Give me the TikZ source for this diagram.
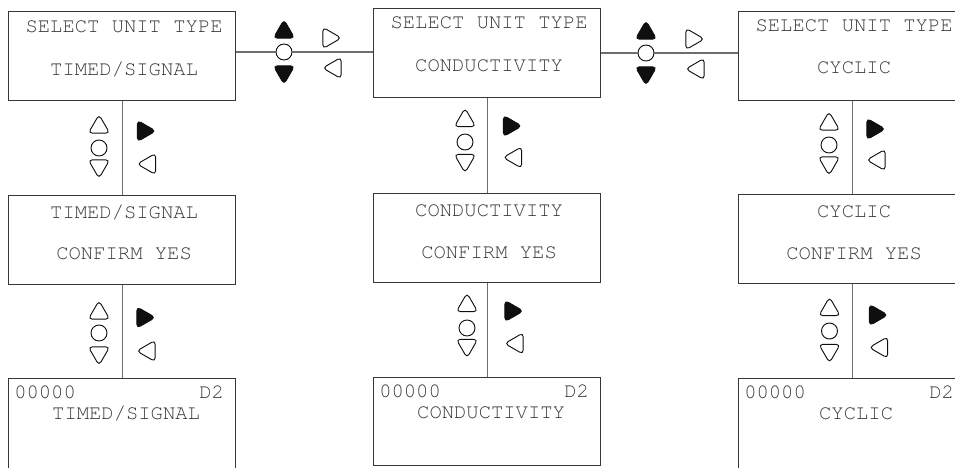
\documentclass[tikz,border=0pt]{standalone}
\usepackage{fontspec}
\setmonofont{texgyrecursor}[Extension=.otf, UprightFont=*-regular, BoldFont=*-bold]
\usetikzlibrary{
  shapes.geometric,
  calc
}
\definecolor{boxcolor}{RGB}{55, 55, 55}
\definecolor{linkcolor}{RGB}{110, 110, 110}
\definecolor{disptextcolor}{RGB}{55, 55, 55}
\definecolor{keycolor}{RGB}{15, 15, 15}
\newcommand{\dispfont}{\ttfamily\fontsize{15.4}{18}\selectfont}
\tikzset{
dispbox/.style={
  draw=boxcolor,
  line width=0.9pt,
  minimum width=170.25pt,
  minimum height=66.75pt,
  inner sep=0pt,
  anchor=north west
},
disptext/.style={
  font=\dispfont,
  text=disptextcolor,
  inner sep=0pt,
  anchor=base
},
link/.style={
  draw=linkcolor,
  line width=0.9pt
},
key/.style={
  regular polygon,
  regular polygon sides=3,
  minimum size=18.5pt,
  inner sep=0pt,
  draw=keycolor,
  line width=0.7pt,
  rounded corners=3pt,
  fill=white
},
keyup/.style={key, shape border rotate=0},
keydown/.style={key, shape border rotate=180},
keyright/.style={key, shape border rotate=-90},
keyleft/.style={key, shape border rotate=90},
pressed/.style={fill=keycolor},
okkey/.style={
  circle,
  draw=keycolor,
  line width=0.7pt,
  fill=white,
  minimum size=12pt,
  inner sep=0pt
}
}

\begin{document}
\begin{tikzpicture}[x=0.75pt, y=-0.75pt]
  \path[use as bounding box, clip] (0,0) rectangle (955,467);

  % display screens, one column per unit type
  \node[dispbox] (t1) at (8,11) {};
  \node[dispbox] (m1) at (8,195) {};
  \node[dispbox, minimum height=69pt] (b1) at (8,378) {};
  \node[dispbox] (t2) at (373,8) {};
  \node[dispbox] (m2) at (373,193) {};
  \node[dispbox, minimum height=66pt] (b2) at (373,377) {};
  \node[dispbox] (t3) at (738,11) {};
  \node[dispbox] (m3) at (738,194) {};
  \node[dispbox, minimum height=69pt] (b3) at (738,378) {};

  % screen texts
  \node[disptext] (t1a) at ($(t1.north)+(2,22)$) {SELECT UNIT TYPE};
  \node[disptext] (t1b) at ($(t1.north)+(2,64)$) {TIMED/SIGNAL};
  \node[disptext] (m1a) at ($(m1.north)+(2,23)$) {TIMED/SIGNAL};
  \node[disptext] (m1b) at ($(m1.north)+(2,64)$) {CONFIRM YES};
  \node[disptext, anchor=base west] (b1a) at ($(b1.north west)+(6,20)$) {00000};
  \node[disptext, anchor=base east] (b1b) at ($(b1.north east)+(-12,20)$) {D2};
  \node[disptext] (b1c) at ($(b1.north)+(4,41)$) {TIMED/SIGNAL};

  \node[disptext] (t2a) at ($(t2.north)+(2,21)$) {SELECT UNIT TYPE};
  \node[disptext] (t2b) at ($(t2.north)+(2,63)$) {CONDUCTIVITY};
  \node[disptext] (m2a) at ($(m2.north)+(2,23)$) {CONDUCTIVITY};
  \node[disptext] (m2b) at ($(m2.north)+(2,65)$) {CONFIRM YES};
  \node[disptext, anchor=base west] (b2a) at ($(b2.north west)+(6,20)$) {00000};
  \node[disptext, anchor=base east] (b2b) at ($(b2.north east)+(-12,20)$) {D2};
  \node[disptext] (b2c) at ($(b2.north)+(4,41)$) {CONDUCTIVITY};

  \node[disptext] (t3a) at ($(t3.north)+(2,21)$) {SELECT UNIT TYPE};
  \node[disptext] (t3b) at ($(t3.north)+(2,63)$) {CYCLIC};
  \node[disptext] (m3a) at ($(m3.north)+(2,23)$) {CYCLIC};
  \node[disptext] (m3b) at ($(m3.north)+(2,65)$) {CONFIRM YES};
  \node[disptext, anchor=base west] (b3a) at ($(b3.north west)+(6,20)$) {00000};
  \node[disptext, anchor=base east] (b3b) at ($(b3.north east)+(-12,20)$) {D2};
  \node[disptext] (b3c) at ($(b3.north)+(4,41)$) {CYCLIC};

  % keys between the type screens
  \node[okkey] (navA) at (284,52) {};
  \node[keyup, pressed] (navAup) at (284,32) {};
  \node[keydown, pressed] (navAdn) at (284,72) {};
  \node[keyright] (navAfw) at (329,38) {};
  \node[keyleft] (navAbk) at (335,68) {};

  \node[okkey] (navB) at (646,53) {};
  \node[keyup, pressed] (navBup) at (646,33) {};
  \node[keydown, pressed] (navBdn) at (646,73) {};
  \node[keyright] (navBfw) at (692,39) {};
  \node[keyleft] (navBbk) at (698,69) {};

  % keys down each column
  \node[okkey] (cfm1) at (99,148) {};
  \node[keyup] (cfm1up) at (99,127) {};
  \node[keydown] (cfm1dn) at (99,166) {};
  \node[keyright, pressed] (cfm1fw) at (143.5,131) {};
  \node[keyleft] (cfm1bk) at (149.5,164) {};

  \node[okkey] (run1) at (99,333) {};
  \node[keyup] (run1up) at (99,313) {};
  \node[keydown] (run1dn) at (99,353) {};
  \node[keyright, pressed] (run1fw) at (143,317.5) {};
  \node[keyleft] (run1bk) at (149,351) {};

  \node[okkey] (cfm2) at (465,142) {};
  \node[keyup] (cfm2up) at (465,120.5) {};
  \node[keydown] (cfm2dn) at (465,160.5) {};
  \node[keyright, pressed] (cfm2fw) at (509.5,126) {};
  \node[keyleft] (cfm2bk) at (515.5,157.5) {};

  \node[okkey] (run2) at (467,328) {};
  \node[keyup] (run2up) at (467,305.5) {};
  \node[keydown] (run2dn) at (467,345.5) {};
  \node[keyright, pressed] (run2fw) at (511,311) {};
  \node[keyleft] (run2bk) at (517,343.5) {};

  \node[okkey] (cfm3) at (829,145) {};
  \node[keyup] (cfm3up) at (829,124) {};
  \node[keydown] (cfm3dn) at (829,163) {};
  \node[keyright, pressed] (cfm3fw) at (873,129) {};
  \node[keyleft] (cfm3bk) at (879,160) {};

  \node[okkey] (run3) at (829.5,331) {};
  \node[keyup] (run3up) at (829.5,309.5) {};
  \node[keydown] (run3dn) at (829.5,350.5) {};
  \node[keyright, pressed] (run3fw) at (875.5,315) {};
  \node[keyleft] (run3bk) at (881.5,347.5) {};

  % links
  \draw[link] (t1.east |- navA) -- (navA.west);
  \draw[link] (navA.east) -- (t2.west |- navA);
  \draw[link] (t2.east |- navB) -- (navB.west);
  \draw[link] (navB.east) -- (t3.west |- navB);
  \draw[link] (t1.south) -- (m1.north);
  \draw[link] (m1.south) -- (b1.north);
  \draw[link] (t2.south) -- (m2.north);
  \draw[link] (m2.south) -- (b2.north);
  \draw[link] (t3.south) -- (m3.north);
  \draw[link] (m3.south) -- (b3.north);
\end{tikzpicture}
\end{document}
